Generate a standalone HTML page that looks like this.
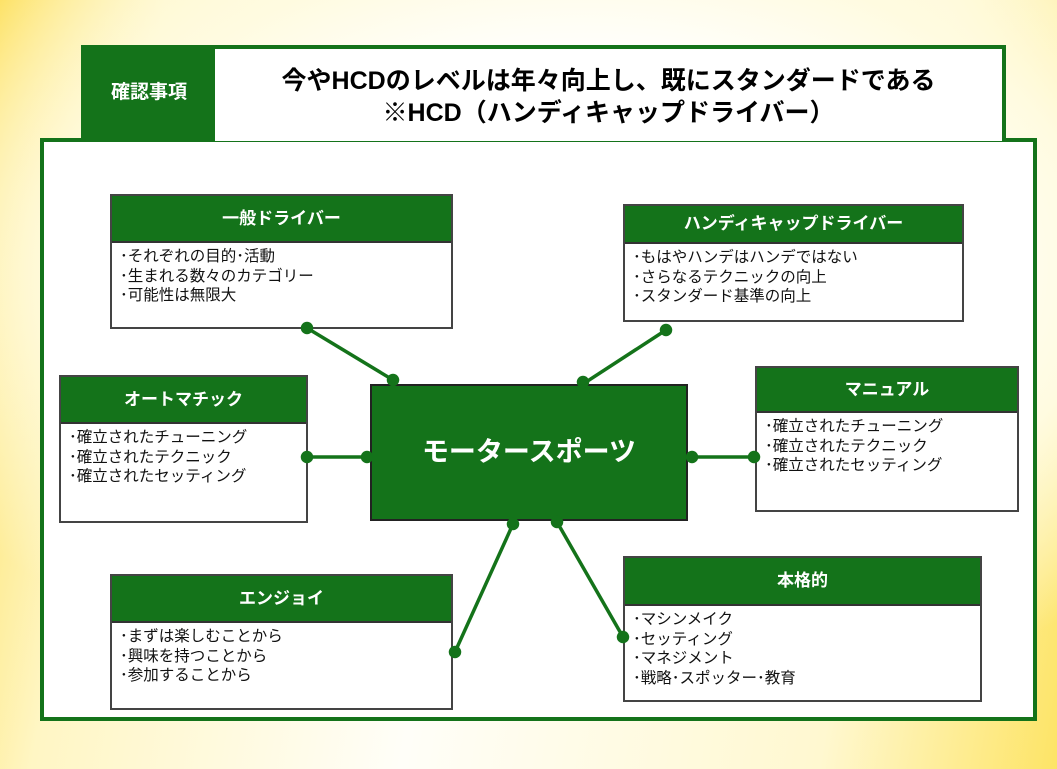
<!DOCTYPE html>
<html><head><meta charset="utf-8"><style>
body{margin:0;width:1057px;height:769px;overflow:hidden;font-family:"Liberation Sans","Noto Sans CJK JP",sans-serif;
background:radial-gradient(ellipse 70% 60% at 55% 35%,#ffffff 45%,#fffbe0 70%,rgba(255,246,190,0) 100%),linear-gradient(100deg,#fde05e 0%,#fff6c4 14%,#fffef8 45%,#fff8d0 80%,#fde466 100%);position:relative}
.a{position:absolute;box-sizing:border-box}
.g{background:#14731a;color:#fff}
.box{position:absolute;box-sizing:border-box;border:2px solid #444;background:#fff}
.box .h{background:#14731a;color:#fff;font-weight:bold;font-size:17px;text-align:center;border-bottom:2px solid #333}
.box .b{font-size:15.5px;line-height:19.5px;padding:4px 0 0 8px;color:#111}
</style></head><body>
<div class="a" style="left:40px;top:138px;width:997px;height:583px;border:4px solid #14731a;background:#fff"></div>
<div class="a g" style="left:81px;top:45px;width:136px;height:96px;font-weight:bold;font-size:19px;line-height:96px;text-align:center">確認事項</div>
<div class="a" style="left:215px;top:45px;width:791px;height:96px;border:4px solid #14731a;border-left:none;border-bottom:none;background:#fff;text-align:center;font-weight:bold;font-size:25px;line-height:32px;padding-top:16px;color:#000">今やHCDのレベルは年々向上し、既にスタンダードである<br>※HCD（ハンディキャップドライバー）</div>
<div class="a g" style="left:370px;top:384px;width:318px;height:137px;border:2px solid #222;font-size:27px;font-weight:bold;text-align:center;line-height:133px">モータースポーツ</div>
<div class="box" style="left:110px;top:194px;width:343px;height:135px"><div class="h" style="height:45px;line-height:45px">一般ドライバー</div><div class="b">･それぞれの目的･活動<br>･生まれる数々のカテゴリー<br>･可能性は無限大</div></div>
<div class="box" style="left:623px;top:204px;width:341px;height:118px"><div class="h" style="height:36px;line-height:36px">ハンディキャップドライバー</div><div class="b">･もはやハンデはハンデではない<br>･さらなるテクニックの向上<br>･スタンダード基準の向上</div></div>
<div class="box" style="left:59px;top:375px;width:249px;height:148px"><div class="h" style="height:45px;line-height:45px">オートマチック</div><div class="b">･確立されたチューニング<br>･確立されたテクニック<br>･確立されたセッティング</div></div>
<div class="box" style="left:755px;top:366px;width:264px;height:146px"><div class="h" style="height:43px;line-height:43px">マニュアル</div><div class="b">･確立されたチューニング<br>･確立されたテクニック<br>･確立されたセッティング</div></div>
<div class="box" style="left:110px;top:574px;width:343px;height:136px"><div class="h" style="height:45px;line-height:45px">エンジョイ</div><div class="b">･まずは楽しむことから<br>･興味を持つことから<br>･参加することから</div></div>
<div class="box" style="left:623px;top:556px;width:359px;height:146px"><div class="h" style="height:46px;line-height:46px">本格的</div><div class="b">･マシンメイク<br>･セッティング<br>･マネジメント<br>･戦略･スポッター･教育</div></div>
<svg class="a" style="left:0;top:0" width="1057" height="769">
<g stroke="#14731a" stroke-width="3.5" fill="#14731a">
<line x1="307" y1="328" x2="393" y2="380"/><circle cx="307" cy="328" r="4.5"/><circle cx="393" cy="380" r="4.5"/>
<line x1="666" y1="330" x2="583" y2="384"/><circle cx="666" cy="330" r="4.5"/><circle cx="583" cy="382" r="4.5"/>
<line x1="307" y1="457" x2="370" y2="457"/><circle cx="307" cy="457" r="4.5"/><circle cx="367" cy="457" r="4.5"/>
<line x1="687" y1="457" x2="755" y2="457"/><circle cx="692" cy="457" r="4.5"/><circle cx="754" cy="457" r="4.5"/>
<line x1="513" y1="524" x2="455" y2="652"/><circle cx="513" cy="524" r="4.5"/><circle cx="455" cy="652" r="4.5"/>
<line x1="557" y1="522" x2="623" y2="637"/><circle cx="557" cy="522" r="4.5"/><circle cx="623" cy="637" r="4.5"/>
</g></svg>
</body></html>
